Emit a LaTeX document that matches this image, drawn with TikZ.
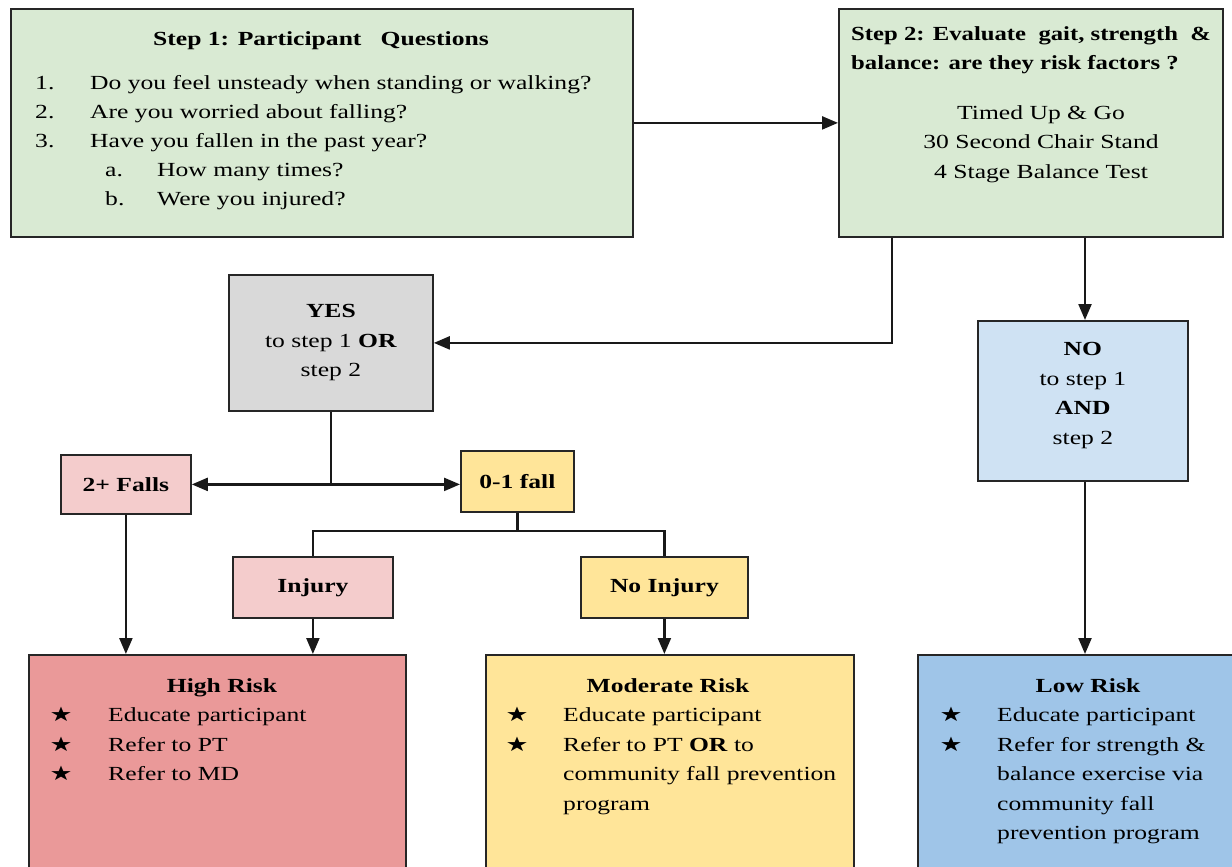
\documentclass[tikz,border=0pt]{standalone}
\usepackage{fontspec}
\setmainfont{Liberation Serif}
\newfontfamily\starfont{DejaVu Sans}
\usetikzlibrary{arrows.meta}

\definecolor{stepgreen}{HTML}{D9EAD3}
\definecolor{yesgray}{HTML}{D9D9D9}
\definecolor{noblue}{HTML}{CFE2F3}
\definecolor{fallpink}{HTML}{F4CCCC}
\definecolor{fallyellow}{HTML}{FFE599}
\definecolor{highred}{HTML}{EA9999}
\definecolor{lowblue}{HTML}{9FC5E8}

% the lettering of the chart is set wide
\newcommand{\wider}[1]{\scalebox{1.28}[1]{#1}}

\tikzset{%
  every box/.style={
    draw=black!85,
    line width=1.8pt,
    anchor=north west,
    inner sep=0pt,
    align=center,
    font=\fontsize{20}{29.5}\selectfont
  },
  line text/.style={
    anchor=base west,
    inner sep=0pt,
    font=\fontsize{20}{29}\selectfont
  },
  title text/.style={
    anchor=base,
    inner sep=0pt,
    font=\fontsize{20}{29}\selectfont\bfseries
  },
  link/.style={
    draw=black!90,
    line width=2.3pt
  },
}

\begin{document}
\begin{tikzpicture}[x=1pt, y=-1pt, >={Triangle[length=16pt,width=13pt]}]
    \clip (0,0) rectangle (1232,867);

    % boxes
    \node [every box, fill=stepgreen, minimum width=622, minimum height=228] (step1) at (10,8) {};
    \node [every box, fill=stepgreen, minimum width=384, minimum height=228] (step2) at (838,8) {};
    \node [every box, fill=yesgray, minimum width=204, minimum height=136] (yes) at (228,274)
      {\wider{\textbf{YES}}\\\wider{to step 1 \textbf{OR}}\\\wider{step 2}};
    \node [every box, fill=noblue, minimum width=210, minimum height=160] (no) at (977,320)
      {\wider{\textbf{NO}}\\\wider{to step 1}\\\wider{\textbf{AND}}\\\wider{step 2}\\[-14pt]\mbox{}};
    \node [every box, fill=fallpink, minimum width=130, minimum height=59] (falls2) at (60,454)
      {\wider{\textbf{2+ Falls}}};
    \node [every box, fill=fallyellow, minimum width=113, minimum height=61] (fall01) at (460,450)
      {\wider{\textbf{0-1 fall}}};
    \node [every box, fill=fallpink, minimum width=160, minimum height=61] (injury) at (232,556)
      {\wider{\textbf{Injury}}};
    \node [every box, fill=fallyellow, minimum width=167, minimum height=61] (noinjury) at (580,556)
      {\wider{\textbf{No Injury}}};
    \node [every box, fill=highred, minimum width=377, minimum height=240] (high) at (28,654) {};
    \node [every box, fill=fallyellow, minimum width=368, minimum height=240] (moderate) at (485,654) {};
    \node [every box, fill=lowblue, minimum width=340, minimum height=240] (low) at (917,654) {};

    % step 1
    \node [title text] (step1-title) at (321,46) {\wider{Step 1: Participant\ \ \ Questions}};
    \foreach \n/\q [count=\i] in {1./{Do you feel unsteady when standing or walking?},
                                  2./{Are you worried about falling?},
                                  3./{Have you fallen in the past year?}}
      {\node [line text] (step1-num-\i) at (35,60+29*\i) {\wider{\n}};
       \node [line text] (step1-q-\i) at (90,60+29*\i) {\wider{\q}};}
    \foreach \n/\q [count=\i] in {a./{How many times?}, b./{Were you injured?}}
      {\node [line text] (step1-sub-\i) at (105,147+29*\i) {\wider{\n}};
       \node [line text] (step1-subq-\i) at (157,147+29*\i) {\wider{\q}};}

    % step 2
    \node [line text, font=\fontsize{20}{29}\selectfont\bfseries] (step2-title-1) at (851,41)
      {\scalebox{1.235}[1]{Step 2: Evaluate\ \ gait, strength\ \ \&}};
    \node [line text, font=\fontsize{20}{29}\selectfont\bfseries] (step2-title-2) at (851,70)
      {\scalebox{1.235}[1]{balance: are they risk factors ?}};
    \foreach \t [count=\i] in {Timed Up \& Go, 30 Second Chair Stand, 4 Stage Balance Test}
      \node [line text, anchor=base] (step2-test-\i) at (1041,89.5+29.5*\i) {\wider{\t}};

    % risk boxes
    \node [title text] (high-title) at (222,692) {\wider{High Risk}};
    \foreach \t [count=\i] in {Educate participant, Refer to PT, Refer to MD}
      {\node [line text, anchor=base] (high-star-\i) at (61,692+29.5*\i) {\wider{\starfont ★}};
       \node [line text] (high-item-\i) at (108,692+29.5*\i) {\wider{\t}};}

    \node [title text] (moderate-title) at (668,692) {\wider{Moderate Risk}};
    \foreach \i in {1,2}
      \node [line text, anchor=base] (moderate-star-\i) at (517,692+29.5*\i) {\wider{\starfont ★}};
    \foreach \t [count=\i] in {Educate participant, Refer to PT \textbf{OR} to,
                               community fall prevention, program}
      \node [line text] (moderate-item-\i) at (563,692+29.5*\i) {\wider{\t}};

    \node [title text] (low-title) at (1088,692) {\wider{Low Risk}};
    \foreach \i in {1,2}
      \node [line text, anchor=base] (low-star-\i) at (951,692+29.5*\i) {\wider{\starfont ★}};
    \foreach \t [count=\i] in {Educate participant, Refer for strength \&,
                               balance exercise via, community fall, prevention program}
      \node [line text] (low-item-\i) at (997,692+29.5*\i) {\wider{\t}};

    % connectors
    \coordinate (yes-turn) at (892,342);
    \draw [link, ->] (step1) -- (step2);
    \draw [link, ->] (step2.south -| yes-turn) |- (yes.east);
    \draw [link, ->] (step2.south -| 1085,0) -- (no.north -| 1085,0);
    \coordinate (fall-split) at (yes.south |- falls2.east);
    \draw [link, ->] (yes.south) -- (fall-split) -- (falls2.east);
    \draw [link, ->] (fall-split) -- (fall-split -| fall01.west);
    \coordinate (injury-split) at (fall01.south |- 0,531);
    \draw [link] (fall01.south) -- (injury-split);
    \draw [link] (injury.north) |- (injury-split) -| (noinjury.north);
    \draw [link, ->] (falls2.south) -- (falls2.south |- high.north);
    \draw [link, ->] (injury.south) -- (injury.south |- high.north);
    \draw [link, ->] (noinjury.south) -- (noinjury.south |- moderate.north);
    \draw [link, ->] (no.south -| 1085,0) -- (low.north -| 1085,0);
\end{tikzpicture}
\end{document}
